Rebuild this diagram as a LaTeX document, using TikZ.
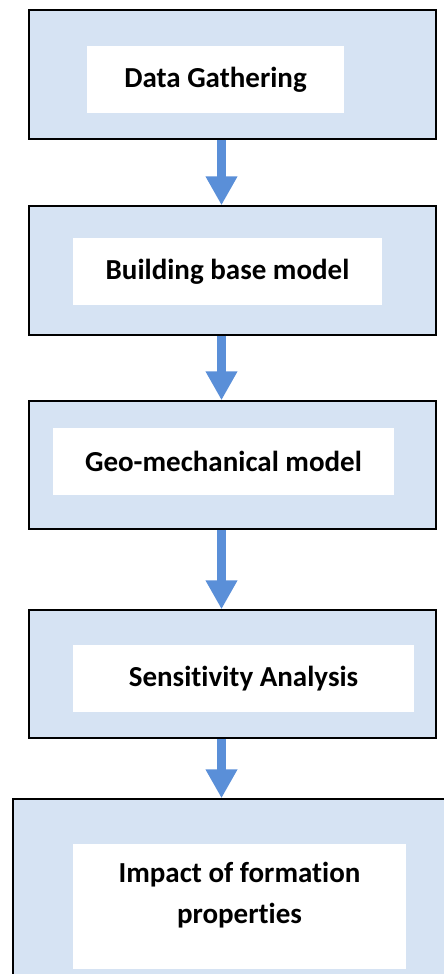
\documentclass[tikz,border=0pt]{standalone}
\usepackage{fontspec}
\setmainfont{Carlito}[Ligatures={NoCommon}]
\usetikzlibrary{arrows.meta}
\definecolor{boxfill}{HTML}{D6E3F3}
\definecolor{flow}{HTML}{5A8FD8}
\begin{document}
\begin{tikzpicture}[x=1pt,y=-1pt,
  outer/.style={draw=black, line width=1.5pt, fill=boxfill, rectangle, inner sep=0pt},
  inner/.style={fill=white, rectangle, inner sep=0pt,
    font=\fontsize{29}{41}\selectfont\bfseries, align=center},
  steptext/.style={inner sep=0pt, font=\fontsize{29}{41}\selectfont\bfseries, align=center},
  flowarrow/.style={draw=flow, line width=9pt, -{Triangle[width=30pt,length=29pt]}}
]
\useasboundingbox (0,0) rectangle (444,974);
\clip (0,0) rectangle (444,974);

% outer step boxes
\node[outer, minimum width=407pt, minimum height=129pt] (b1) at (232.5,74.5) {};
\node[outer, minimum width=407pt, minimum height=129pt] (b2) at (232.5,270.5) {};
\node[outer, minimum width=407pt, minimum height=128pt] (b3) at (232.5,465) {};
\node[outer, minimum width=407pt, minimum height=128pt] (b4) at (232.5,674) {};
\node[outer, minimum width=457pt, minimum height=201pt] (b5) at (241.5,899.5) {};

% white label panels
\node[inner, minimum width=257pt, minimum height=67pt] (t1) at (215.5,79.5) {Data Gathering};
\node[inner, minimum width=309pt, minimum height=67pt] (t2) at (227.5,271.5) {Building base model};
\node[inner, minimum width=341pt, minimum height=67pt] (t3) at (223.5,461.5) {Geo-mechanical model};
\node[inner, minimum width=341pt, minimum height=67pt] (t4) at (243.5,678.5) {Sensitivity Analysis};
\node[inner, minimum width=333pt, minimum height=125pt] (t5) at (239.5,906.5) {};
\node[steptext] (t5text) at (239.5,895) {Impact of formation\\properties};

% connectors
\coordinate (ax) at (221.5,0);
\draw[flowarrow] (b1.south -| ax) -- (b2.north -| ax);
\draw[flowarrow] (b2.south -| ax) -- (b3.north -| ax);
\draw[flowarrow] (b3.south -| ax) -- (b4.north -| ax);
\draw[flowarrow] (b4.south -| ax) -- (b5.north -| ax);
\end{tikzpicture}
\end{document}
